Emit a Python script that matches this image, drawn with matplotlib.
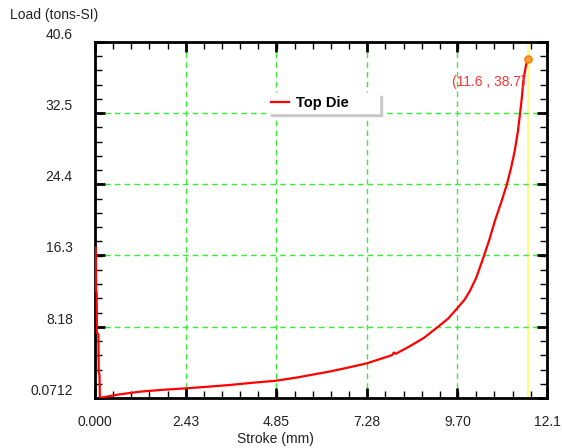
import matplotlib.pyplot as plt
from matplotlib.ticker import AutoMinorLocator

plt.rcParams["font.family"] = ["Liberation Sans", "DejaVu Sans"]

# curve
stroke = [0.02, 0.03, 0.045, 0.05, 0.09, 0.10, 0.12, 0.13, 0.6, 1.2, 1.8, 2.43,
          3.0, 3.6, 4.2, 4.85, 5.4, 5.85, 6.3, 6.74, 7.28, 7.7, 7.95, 8.0, 8.05,
          8.4, 8.8, 9.19, 9.45, 9.68, 9.9, 10.04, 10.2, 10.4, 10.55, 10.71, 10.87,
          11.02, 11.14, 11.24, 11.32, 11.38, 11.43, 11.47, 11.54, 11.6]
load = [17.2, 12.3, 12.0, 7.5, 7.3, 2.9, 2.8, 0.08, 0.45, 0.79, 1.0, 1.17,
        1.35, 1.55, 1.8, 2.04, 2.4, 2.75, 3.1, 3.5, 4.02, 4.6, 4.95, 5.25, 5.1,
        5.9, 6.9, 8.2, 9.1, 10.2, 11.3, 12.3, 13.7, 16.1, 18.0, 20.3, 22.3,
        24.3, 26.3, 28.3, 30.4, 32.5, 34.4, 36.3, 38.0, 38.7]

probe_x = 11.6
probe_y = 38.7

x_ticks = [0.0, 2.43, 4.85, 7.28, 9.70, 12.1]
x_labels = ["0.000", "2.43", "4.85", "7.28", "9.70", "12.1"]
y_ticks = [0.0712, 8.18, 16.3, 24.4, 32.5, 40.6]
y_labels = ["0.0712", "8.18", "16.3", "24.4", "32.5", "40.6"]

fig = plt.figure(figsize=(5.62, 4.48), dpi=100)
ax = fig.add_axes([95 / 562, 50 / 448, 452 / 562, 356 / 448])

ax.axvline(probe_x, color="#ffff66", lw=1.2, zorder=1)
ax.plot(stroke, load, color="#ff0000", lw=1.6, label="Top Die", zorder=3)
ax.plot([probe_x], [probe_y], "o", ms=5, mfc="#ffa040", mec="#ff7f00", mew=1.2, zorder=4)
ax.text(probe_x - 0.08, probe_y - 2.6, f"({probe_x} , {probe_y})", color="#ff3333",
        fontsize=10, ha="right", va="center")

ax.set_xlim(x_ticks[0], x_ticks[-1])
ax.set_ylim(y_ticks[0], y_ticks[-1])
ax.set_xticks(x_ticks)
ax.set_xticklabels(x_labels)
ax.set_yticks(y_ticks)
ax.set_yticklabels(y_labels)
ax.xaxis.set_minor_locator(AutoMinorLocator(5))
ax.yaxis.set_minor_locator(AutoMinorLocator(5))

ax.tick_params(which="both", direction="in", top=True, right=True, colors="black",
               labelcolor="#222222", labelsize=10)
ax.tick_params(which="major", length=7, width=2)
ax.tick_params(which="minor", length=5, width=1)
ax.tick_params(axis="x", pad=12)
ax.tick_params(axis="y", pad=16)
for lab in ax.get_yticklabels():
    lab.set_verticalalignment("bottom")

ax.grid(True, which="major", color="#33ee33", ls=(0, (4, 3)), lw=1)
for s in ax.spines.values():
    s.set_linewidth(2)

leg = ax.legend(loc="upper left", bbox_to_anchor=(0.383, 0.857, 0.245, 0),
                mode="expand", borderaxespad=0, frameon=True,
                fancybox=False, shadow={"color": "#c8c8c8", "alpha": 1},
                edgecolor="white", framealpha=1,
                handlelength=1.2, handletextpad=0.5, borderpad=0.2,
                prop={"weight": "bold", "size": 10.5})

fig.text(10 / 562, 1 - 15 / 448, "Load (tons-SI)", fontsize=10, color="#222222",
         ha="left", va="center")
fig.text(275 / 562, 1 - 439 / 448, "Stroke (mm)", fontsize=10, color="#222222",
         ha="center", va="center")

fig.savefig("out.png", dpi=100)
